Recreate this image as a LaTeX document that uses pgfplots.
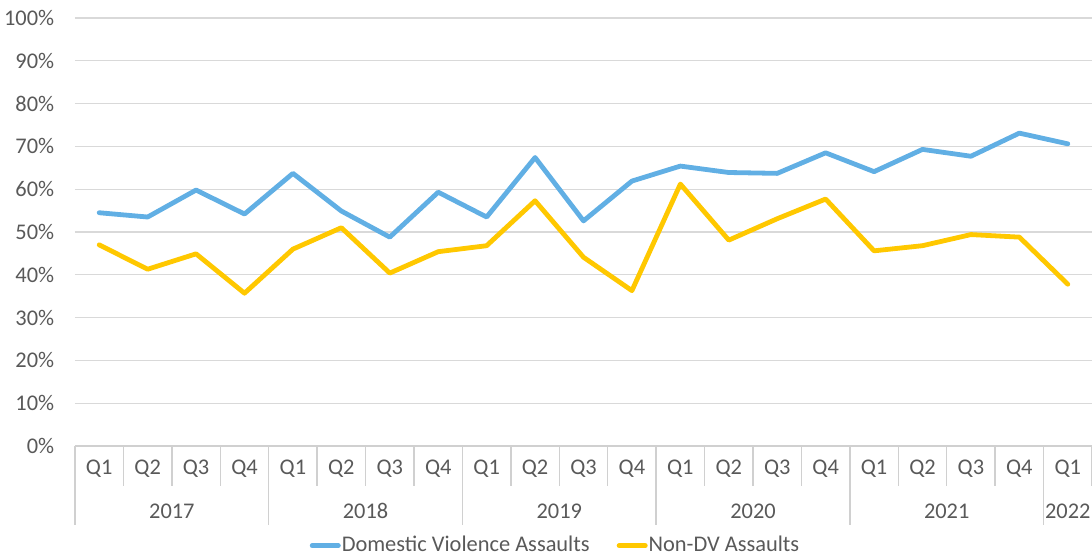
\documentclass[border=0pt]{standalone}
\usepackage{fontspec}
\setmainfont{Carlito}
\usepackage{pgfplots}
\pgfplotsset{compat=1.18}
\definecolor{dvblue}{HTML}{61AFE4}
\definecolor{nongold}{HTML}{FFC800}
\definecolor{txtgray}{HTML}{595959}
\definecolor{gridgray}{HTML}{D9D9D9}
\definecolor{sepgray}{HTML}{D0D0D0}

\begin{document}
\fontsize{11.2}{13}\selectfont
\begin{tikzpicture}
\begin{axis}[
    scale only axis,
    width=508.5pt, height=214pt,
    xmin=-0.5, xmax=20.5,
    ymin=0, ymax=100,
    clip=false,
    axis line style={draw=none},
    ytick={0,10,...,100},
    yticklabel={\pgfmathprintnumber{\tick}\%},
    /pgf/number format/assume math mode=true,
    ymajorgrids,
    grid style={gridgray, line width=0.6pt},
    major tick length=0pt,
    yticklabel style={anchor=east, xshift=-6.5pt, text=txtgray},
    xtick={0,...,20},
    xticklabels={Q1,Q2,Q3,Q4,Q1,Q2,Q3,Q4,Q1,Q2,Q3,Q4,Q1,Q2,Q3,Q4,Q1,Q2,Q3,Q4,Q1},
    xticklabel style={anchor=base, yshift=-14.3pt, text=txtgray},
    legend columns=2,
    legend style={draw=none, fill=none, at={(0.472,-0.233)}, anchor=center,
        text=txtgray, /tikz/every even column/.append style={column sep=13pt},
        inner sep=0pt, nodes={inner sep=0.5pt}},
    legend image code/.code={\draw[#1, line width=2.5pt, line cap=round] (0pt,0pt) -- (13pt,0pt);},
]
\addplot[dvblue, line width=2.4pt, line join=round, line cap=round] coordinates {
    (0,54.5) (1,53.5) (2,59.8) (3,54.2)
    (4,63.7) (5,54.9) (6,48.8) (7,59.3)
    (8,53.5) (9,67.4) (10,52.6) (11,61.9)
    (12,65.4) (13,63.9) (14,63.7) (15,68.5)
    (16,64.1) (17,69.3) (18,67.7) (19,73.1)
    (20,70.6)
};
\addlegendentry{Domestic Violence Assaults}
\addplot[nongold, line width=2.4pt, line join=round, line cap=round] coordinates {
    (0,47.0) (1,41.3) (2,44.9) (3,35.7)
    (4,46.0) (5,51.0) (6,40.4) (7,45.4)
    (8,46.8) (9,57.3) (10,44.1) (11,36.3)
    (12,61.2) (13,48.1) (14,53.1) (15,57.7)
    (16,45.6) (17,46.8) (18,49.4) (19,48.8)
    (20,37.8)
};
\addlegendentry{Non-DV Assaults}
% axis base line and category separators
\draw[sepgray, line width=0.7pt] (axis cs:-0.5,0) -- (axis cs:20.5,0);
\pgfplotsinvokeforeach{0.5,1.5,2.5,4.5,5.5,6.5,8.5,9.5,10.5,12.5,13.5,14.5,16.5,17.5,18.5,20.5}{
    \draw[sepgray, line width=0.7pt] (axis cs:#1,0) -- ++(0pt,-20pt);
}
\pgfplotsinvokeforeach{-0.5,3.5,7.5,11.5,15.5,19.5}{
    \draw[sepgray, line width=0.7pt] (axis cs:#1,0) -- ++(0pt,-39.5pt);
}
\node[anchor=base, text=txtgray] at ([yshift=-36.3pt]axis cs:1.5,0) {2017};
\node[anchor=base, text=txtgray] at ([yshift=-36.3pt]axis cs:5.5,0) {2018};
\node[anchor=base, text=txtgray] at ([yshift=-36.3pt]axis cs:9.5,0) {2019};
\node[anchor=base, text=txtgray] at ([yshift=-36.3pt]axis cs:13.5,0) {2020};
\node[anchor=base, text=txtgray] at ([yshift=-36.3pt]axis cs:17.5,0) {2021};
\node[anchor=base, text=txtgray] at ([yshift=-36.3pt]axis cs:20,0) {2022};
\end{axis}
\pgfresetboundingbox
\useasboundingbox (-37.5pt,-56pt) rectangle (508.5pt,223pt);
\end{tikzpicture}
\end{document}
